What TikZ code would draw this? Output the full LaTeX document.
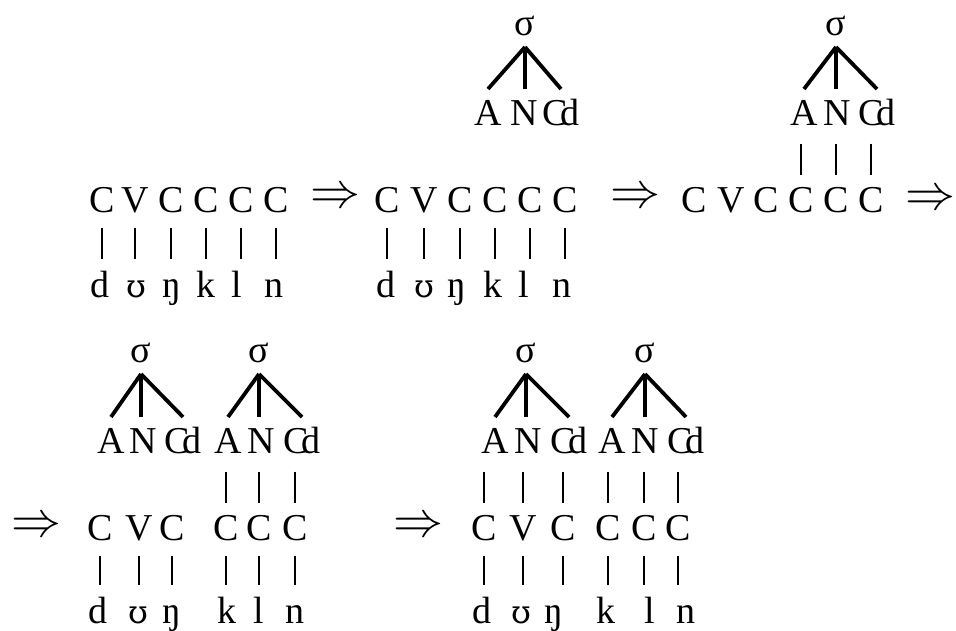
\documentclass[tikz,border=0pt]{standalone}
\usepackage{fontspec}
\setmainfont{Liberation Serif}
\newfontfamily\ipafont{DejaVu Serif}

\begin{document}
\begin{tikzpicture}[x=1pt,y=-1pt,font=\fontsize{38}{40}\selectfont,
  seg/.style={anchor=base,inner sep=0pt,text height=25pt,text depth=0pt},
  lab/.style={seg,outer ysep=11pt},
  syl/.style={anchor=base,inner sep=0pt,text depth=0pt,outer ysep=12pt},
  impl/.style={inner sep=0pt,font=\normalsize},
  bar/.style={line width=1.2pt,shorten <=16pt,shorten >=12.5pt},
  upbar/.style={line width=1.2pt,shorten <=7.5pt,shorten >=12pt},
  branch/.style={line width=3.8pt}]
\useasboundingbox (0,0) rectangle (956,630);
\newcommand{\coda}{C\kern-.2em d}
\newcommand{\upsi}{{\ipafont\fontsize{32}{40}\selectfont ʊ}}
\newcommand{\impl}{\scalebox{5}{$\Rightarrow$}}

% stage A
\node[seg] (cvA1) at (102,212) {C}; \node[seg] (cvA2) at (135,212) {V}; \node[seg] (cvA3) at (171,212) {C};
\node[seg] (cvA4) at (206,212) {C}; \node[seg] (cvA5) at (241,212) {C}; \node[seg] (cvA6) at (276,212) {C};
\node[seg] (sgA1) at (100,297) {d}; \node[seg] (sgA2) at (136,297) {\upsi}; \node[seg] (sgA3) at (172,297) {ŋ};
\node[seg] (sgA4) at (206,297) {k}; \node[seg] (sgA5) at (237,297) {l}; \node[seg] (sgA6) at (274,297) {n};
\draw[bar] (cvA1.south)--(cvA1.south|-sgA1.north); \draw[bar] (cvA2.south)--(cvA2.south|-sgA2.north); \draw[bar] (cvA3.south)--(cvA3.south|-sgA3.north);
\draw[bar] (cvA4.south)--(cvA4.south|-sgA4.north); \draw[bar] (cvA5.south)--(cvA5.south|-sgA5.north); \draw[bar] (cvA6.south)--(cvA6.south|-sgA6.north);
\node[impl] (toA) at (335,198) {\impl};

% stage B
\node[syl] (sB) at (525,35) {σ};
\node[lab] (aB) at (488,125) {A}; \node[lab] (nB) at (524,125) {N}; \node[lab] (dB) at (561,125) {\coda};
\draw[branch] (sB.south)--(aB.north); \draw[branch] (sB.south)--(sB.south|-nB.north); \draw[branch] (sB.south)--(dB.north);
\node[seg] (cvB1) at (387,212) {C}; \node[seg] (cvB2) at (424,212) {V}; \node[seg] (cvB3) at (460,212) {C};
\node[seg] (cvB4) at (495,212) {C}; \node[seg] (cvB5) at (530,212) {C}; \node[seg] (cvB6) at (565,212) {C};
\node[seg] (sgB1) at (386,297) {d}; \node[seg] (sgB2) at (424,297) {\upsi}; \node[seg] (sgB3) at (457,297) {ŋ};
\node[seg] (sgB4) at (493,297) {k}; \node[seg] (sgB5) at (524,297) {l}; \node[seg] (sgB6) at (562,297) {n};
\draw[bar] (cvB1.south)--(cvB1.south|-sgB1.north); \draw[bar] (cvB2.south)--(cvB2.south|-sgB2.north); \draw[bar] (cvB3.south)--(cvB3.south|-sgB3.north);
\draw[bar] (cvB4.south)--(cvB4.south|-sgB4.north); \draw[bar] (cvB5.south)--(cvB5.south|-sgB5.north); \draw[bar] (cvB6.south)--(cvB6.south|-sgB6.north);
\node[impl] (toB) at (635,198) {\impl};

% stage C
\node[syl] (sC) at (836,35) {σ};
\node[lab] (aC) at (804,125) {A}; \node[lab] (nC) at (837,125) {N}; \node[lab] (dC) at (877,125) {\coda};
\draw[branch] (sC.south)--(aC.north); \draw[branch] (sC.south)--(sC.south|-nC.north); \draw[branch] (sC.south)--(dC.north);
\node[seg] (cvC1) at (694,212) {C}; \node[seg] (cvC2) at (731,212) {V}; \node[seg] (cvC3) at (766,212) {C};
\node[seg] (cvC4) at (801,212) {C}; \node[seg] (cvC5) at (836,212) {C}; \node[seg] (cvC6) at (871,212) {C};
\draw[upbar] (aC.south-|cvC4)--(cvC4.north); \draw[upbar] (nC.south-|cvC5)--(cvC5.north); \draw[upbar] (dC.south-|cvC6)--(cvC6.north);
\node[impl] (toC) at (930,200) {\impl};

% stage D
\node[impl] (toD) at (37,527) {\impl};
\node[syl] (sD1) at (141,362) {σ};
\node[lab] (aD1) at (111,453) {A}; \node[lab] (nD1) at (143,453) {N}; \node[lab] (dD1) at (183,453) {\coda};
\draw[branch] (sD1.south)--(aD1.north); \draw[branch] (sD1.south)--(sD1.south|-nD1.north); \draw[branch] (sD1.south)--(dD1.north);
\node[syl] (sD2) at (259,362) {σ};
\node[lab] (aD2) at (228,453) {A}; \node[lab] (nD2) at (261,453) {N}; \node[lab] (dD2) at (302,453) {\coda};
\draw[branch] (sD2.south)--(aD2.north); \draw[branch] (sD2.south)--(sD2.south|-nD2.north); \draw[branch] (sD2.south)--(dD2.north);
\node[seg] (cvD1) at (100,540) {C}; \node[seg] (cvD2) at (139,540) {V}; \node[seg] (cvD3) at (172,540) {C};
\node[seg] (cvD4) at (226,540) {C}; \node[seg] (cvD5) at (259,540) {C}; \node[seg] (cvD6) at (295,540) {C};
\draw[upbar] (aD2.south-|cvD4)--(cvD4.north); \draw[upbar] (nD2.south-|cvD5)--(cvD5.north); \draw[upbar] (dD2.south-|cvD6)--(cvD6.north);
\node[seg] (sgD1) at (98,623) {d}; \node[seg] (sgD2) at (138,623) {\upsi}; \node[seg] (sgD3) at (172,623) {ŋ};
\node[seg] (sgD4) at (227,623) {k}; \node[seg] (sgD5) at (259,623) {l}; \node[seg] (sgD6) at (295,623) {n};
\draw[bar] (cvD1.south)--(cvD1.south|-sgD1.north); \draw[bar] (cvD2.south)--(cvD2.south|-sgD2.north); \draw[bar] (cvD3.south)--(cvD3.south|-sgD3.north);
\draw[bar] (cvD4.south)--(cvD4.south|-sgD4.north); \draw[bar] (cvD5.south)--(cvD5.south|-sgD5.north); \draw[bar] (cvD6.south)--(cvD6.south|-sgD6.north);
\node[impl] (toE) at (418,527) {\impl};

% stage E
\node[syl] (sE1) at (526,362) {σ};
\node[lab] (aE1) at (495,453) {A}; \node[lab] (nE1) at (528,453) {N}; \node[lab] (dE1) at (569,453) {\coda};
\draw[branch] (sE1.south)--(aE1.north); \draw[branch] (sE1.south)--(sE1.south|-nE1.north); \draw[branch] (sE1.south)--(dE1.north);
\node[syl] (sE2) at (645,362) {σ};
\node[lab] (aE2) at (612,453) {A}; \node[lab] (nE2) at (645,453) {N}; \node[lab] (dE2) at (686,453) {\coda};
\draw[branch] (sE2.south)--(aE2.north); \draw[branch] (sE2.south)--(sE2.south|-nE2.north); \draw[branch] (sE2.south)--(dE2.north);
\node[seg] (cvE1) at (484,540) {C}; \node[seg] (cvE2) at (523,540) {V}; \node[seg] (cvE3) at (563,540) {C};
\node[seg] (cvE4) at (608,540) {C}; \node[seg] (cvE5) at (644,540) {C}; \node[seg] (cvE6) at (678,540) {C};
\draw[upbar] (aE1.south-|cvE1)--(cvE1.north); \draw[upbar] (nE1.south-|cvE2)--(cvE2.north); \draw[upbar] (dE1.south-|cvE3)--(cvE3.north);
\draw[upbar] (aE2.south-|cvE4)--(cvE4.north); \draw[upbar] (nE2.south-|cvE5)--(cvE5.north); \draw[upbar] (dE2.south-|cvE6)--(cvE6.north);
\node[seg] (sgE1) at (482,623) {d}; \node[seg] (sgE2) at (521,623) {\upsi}; \node[seg] (sgE3) at (554,623) {ŋ};
\node[seg] (sgE4) at (606,623) {k}; \node[seg] (sgE5) at (650,623) {l}; \node[seg] (sgE6) at (686,623) {n};
\draw[bar] (cvE1.south)--(cvE1.south|-sgE1.north); \draw[bar] (cvE2.south)--(cvE2.south|-sgE2.north); \draw[bar] (cvE3.south)--(cvE3.south|-sgE3.north);
\draw[bar] (cvE4.south)--(cvE4.south|-sgE4.north); \draw[bar] (cvE5.south)--(cvE5.south|-sgE5.north); \draw[bar] (cvE6.south)--(cvE6.south|-sgE6.north);
\end{tikzpicture}
\end{document}
